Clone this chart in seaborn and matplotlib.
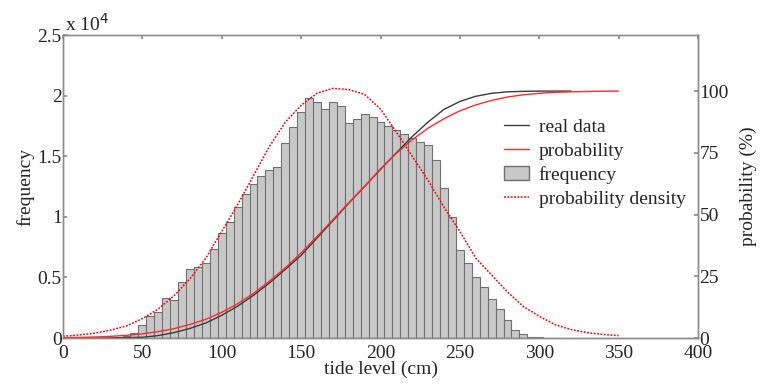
import numpy as np
import pandas as pd
import matplotlib
matplotlib.use("Agg")
import matplotlib.pyplot as plt
from matplotlib.lines import Line2D
from matplotlib.patches import Patch
from matplotlib.ticker import FuncFormatter
import seaborn as sns

# histogram: bin centres (cm) and counts, 5 cm bins
bin_centers = np.arange(35, 315, 5)
counts = [50, 160, 390, 1040, 1800, 2170, 3300, 3130, 4600, 5680,
          5880, 6160, 7310, 8660, 9550, 10830, 11850, 12740, 13400, 13860,
          14110, 16120, 17440, 18670, 19830, 19470, 18920, 19470, 19160, 17780,
          18040, 18480, 18210, 17800, 17460, 17160, 16820, 16540, 16200, 15950,
          14720, 12370, 10010, 7260, 6160, 5060, 4180, 3240, 2370, 1450,
          680, 350, 110, 60, 20, 30]

# fitted probability density (left axis units, counts)
pdf_tide = np.arange(0, 360, 10)
pdf_vals = [150, 250, 400, 650, 1000, 1600, 2400, 3500, 4900, 6600,
            8800, 11000, 13400, 15800, 17800, 19200, 20200, 20600, 20500, 20100,
            18900, 17000, 15000, 13000, 10800, 8800, 6600, 5200, 3800, 2600,
            1800, 1100, 700, 450, 300, 200]

# cumulative probability (%)
cdf_tide = np.arange(0, 360, 10)
cdf_fit = [0.14, 0.25, 0.41, 0.68, 1.1, 1.7, 2.6, 3.8, 5.5, 7.6,
           10.4, 13.9, 18.1, 23.0, 28.4, 34.5, 41.1, 47.9, 54.8, 61.4,
           68.5, 74.8, 80.3, 85.0, 88.8, 92.0, 94.4, 96.2, 97.6, 98.5,
           99.1, 99.5, 99.7, 99.85, 99.95, 100.0]
real_tide = np.arange(0, 330, 10)
real_cdf = [0, 0, 0, 0.05, 0.15, 0.3, 1.0, 2.2, 3.9, 6.1,
            9.2, 12.9, 17.3, 22.3, 27.8, 33.5, 40.5, 47.5, 54.6, 61.4,
            68.3, 75.0, 81.6, 87.5, 92.6, 95.8, 97.9, 99.1, 99.7, 99.9,
            100, 100, 100]

hist_df = pd.DataFrame({"tide": bin_centers, "count": counts})

sns.set_theme(style="white")
plt.rcParams["font.family"] = ["Liberation Serif", "DejaVu Serif"]
plt.rcParams["font.size"] = 14

fig = plt.figure(figsize=(7.62, 3.85), dpi=100)
ax = fig.add_axes([0.0827, 0.122, 0.8333, 0.787])
ax2 = ax.twinx()

gray = "#8c8c8c"
sns.histplot(data=hist_df, x="tide", weights="count", binwidth=5, binrange=(32.5, 312.5),
             color="#c8c8c8", edgecolor="#707070", linewidth=0.8, alpha=1, ax=ax)
sns.lineplot(x=pdf_tide, y=pdf_vals, ax=ax, color="red", linestyle=(0, (1.2, 1.0)), linewidth=1.1)
sns.lineplot(x=real_tide, y=real_cdf, ax=ax2, color="#3a3a3a", linewidth=1.0)
sns.lineplot(x=cdf_tide, y=cdf_fit, ax=ax2, color="#ff2a2a", linewidth=1.0)

ax.set_xlim(0, 400)
ax.set_ylim(0, 25000)
ax2.set_ylim(0, 122.7)
ax.set_xticks(np.arange(0, 401, 50))
ax.set_yticks(np.arange(0, 25001, 5000))
ax2.set_yticks([0, 25, 50, 75, 100])
ax.yaxis.set_major_formatter(FuncFormatter(lambda v, p: f"{v / 1e4:g}"))

ax.set_xlabel("tide level (cm)", fontsize=14, labelpad=-1)
ax.set_ylabel("frequency", fontsize=14, labelpad=2)
ax2.set_ylabel("probability (%)", fontsize=14, labelpad=8)
ax.text(0.003, 1.0, "x 10$^4$", transform=ax.transAxes, ha="left", va="bottom", fontsize=14)

for a in (ax, ax2):
    for s in a.spines.values():
        s.set_color(gray)
        s.set_linewidth(1.0)
ax.tick_params(axis="x", direction="in", top=True, length=3, color=gray, labelsize=14, pad=5)
ax.tick_params(axis="y", direction="in", length=3, color=gray, labelsize=14, pad=1)
ax2.tick_params(axis="y", direction="in", length=3, color=gray, labelsize=14, pad=1)

handles = [Line2D([], [], color="#3a3a3a", lw=1.0),
           Line2D([], [], color="#ff2a2a", lw=1.0),
           Patch(facecolor="#c8c8c8", edgecolor="#707070"),
           Line2D([], [], color="red", lw=1.1, linestyle=(0, (1.2, 1.0)))]
labels = ["real data", "probability", "frequency", "probability density"]
ax2.legend(handles, labels, loc="upper left", bbox_to_anchor=(0.682, 0.75), frameon=False,
           fontsize=14, handlelength=1.3, handletextpad=0.5, labelspacing=0.32, borderaxespad=0)

fig.savefig("out.png", dpi=100)
plt.close(fig)
